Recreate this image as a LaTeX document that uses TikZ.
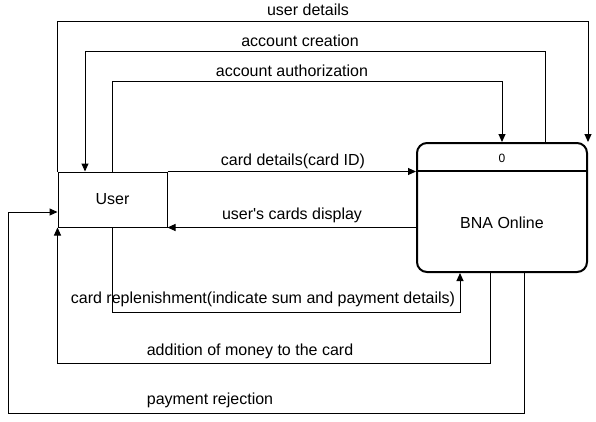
\documentclass[tikz,border=0pt]{standalone}
\usepackage{fontspec}
\setmainfont{Liberation Sans}
\usetikzlibrary{arrows.meta}
\begin{document}
\begin{tikzpicture}[x=1pt, y=-1pt, font=\fontsize{16}{19}\selectfont,
  flow/.style={line width=1pt, -{Triangle[length=8pt, width=7pt]}}]
\useasboundingbox (0,0) rectangle (596,421);
\node[draw, line width=1pt, minimum width=109pt, minimum height=55pt] (user) at (112.5,199.5) {User};
\node[draw, line width=2pt, rounded corners=10pt, minimum width=170pt, minimum height=129pt] (bna) at (502,207.5) {};
\draw[line width=2pt] ([yshift=-29pt]bna.north west) -- ([yshift=-29pt]bna.north east);
\node[font=\fontsize{12}{14}\selectfont] (bnaid) at (502,158) {0};
\node (bnaname) at (502,223) {BNA Online};

\node (lbluser) at (308,10) {user details};
\node (lblcreate) at (300,41) {account creation};
\node (lblauth) at (292,71) {account authorization};
\node (lblcard) at (293,161) {card details(card ID)};
\node (lbldisplay) at (292,215) {user\textquotesingle s cards display};
\node (lblrefill) at (263,299) {card replenishment(indicate sum and payment details)};
\node (lbladd) at (250,351) {addition of money to the card};
\node (lblreject) at (210,400) {payment rejection};

\draw[flow] (user.north west) -- ++(0,-150) -| (bna.north east);
\draw[flow] ([xshift=43pt]bna.north) -- ++(0,-91) -| ([xshift=-27.5pt]user.north);
\draw[flow] (user.north) -- ++(0,-90) -| (bna.north);
\draw[flow] (user.north east) -- (user.north east -| bna.west);
\draw[flow] (user.south east -| bna.west) -- (user.south east);
\draw[flow] (user.south) -- ++(0,85) -| ([xshift=-42pt]bna.south);
\draw[flow] ([xshift=-12pt]bna.south) -- ++(0,90) -| (user.south west);
\draw[flow] ([xshift=22pt]bna.south) -- ++(0,140) -- ++(-516,0) |- ([yshift=-12.5pt]user.west);
\end{tikzpicture}
\end{document}
